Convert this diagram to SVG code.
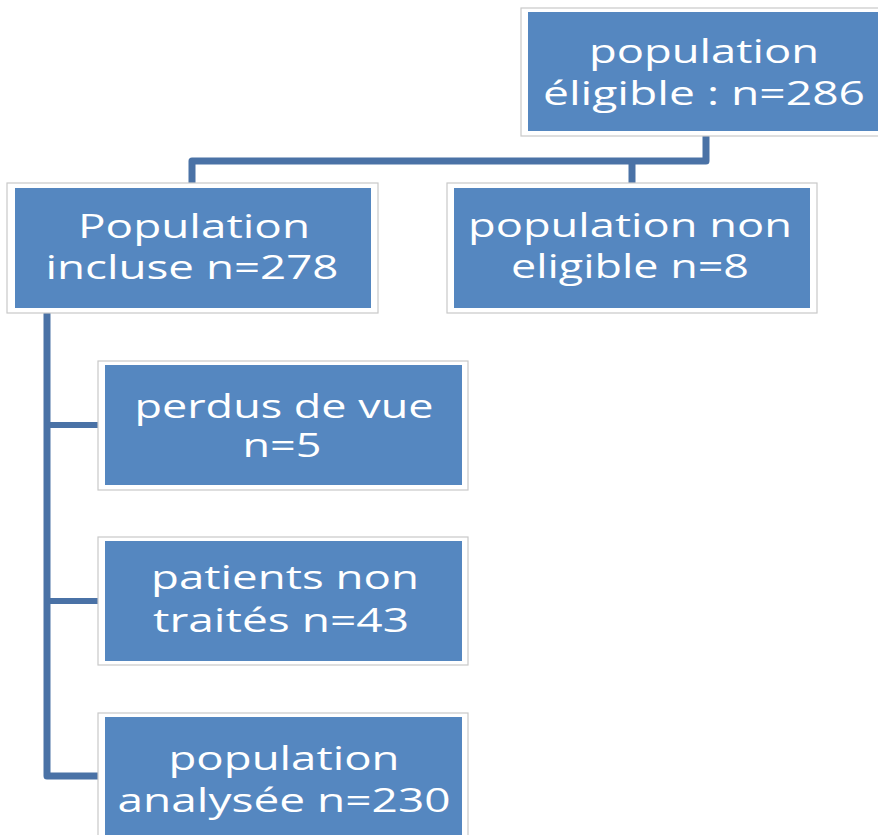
<svg xmlns="http://www.w3.org/2000/svg" width="878" height="835" viewBox="0 0 878 835">
<style>
.frame{fill:#ffffff;stroke:#c9c9c9;stroke-width:1.2}
.box{fill:#5587c0}
.lbl{font-family:"Open Sans","DejaVu Sans",sans-serif;font-size:32px;fill:#ffffff;text-anchor:middle}
.con{fill:none;stroke:#4a72a6;stroke-width:7;stroke-linejoin:round}
</style>
<rect width="878" height="835" fill="#ffffff"/>
<g id="connectors">
<path class="con" d="M706,136 V161 H192 V183"/>
<path class="con" d="M632,161 V183"/>
<path class="con" d="M47,313 V776 H98"/>
<path class="con" d="M47,425 H98" style="stroke-width:6"/>
<path class="con" d="M47,601 H98" style="stroke-width:6"/>
</g>
<g id="eligible">
<rect class="frame" x="521" y="8" width="366" height="128"/>
<rect class="box" x="528" y="12" width="352" height="119"/>
<text class="lbl" x="704" y="63" textLength="230" lengthAdjust="spacingAndGlyphs">population</text>
<text class="lbl" x="704" y="105" textLength="322" lengthAdjust="spacingAndGlyphs">éligible : n=286</text>
</g>
<g id="incluse">
<rect class="frame" x="7" y="183" width="371" height="130"/>
<rect class="box" x="15" y="188" width="356" height="120"/>
<text class="lbl" x="194" y="238" textLength="232" lengthAdjust="spacingAndGlyphs">Population</text>
<text class="lbl" x="192" y="279" textLength="293" lengthAdjust="spacingAndGlyphs">incluse n=278</text>
</g>
<g id="non-eligible">
<rect class="frame" x="447" y="183" width="370" height="130"/>
<rect class="box" x="454" y="188" width="356" height="120"/>
<text class="lbl" x="630" y="237" textLength="324" lengthAdjust="spacingAndGlyphs">population non</text>
<text class="lbl" x="630" y="278" textLength="238" lengthAdjust="spacingAndGlyphs">eligible n=8</text>
</g>
<g id="perdus">
<rect class="frame" x="98" y="361" width="370" height="129"/>
<rect class="box" x="105" y="365" width="357" height="120"/>
<text class="lbl" x="284" y="418" textLength="299" lengthAdjust="spacingAndGlyphs">perdus de vue</text>
<text class="lbl" x="282" y="457" textLength="79" lengthAdjust="spacingAndGlyphs">n=5</text>
</g>
<g id="non-traites">
<rect class="frame" x="98" y="537" width="370" height="128"/>
<rect class="box" x="105" y="541" width="357" height="120"/>
<text class="lbl" x="285" y="589" textLength="268" lengthAdjust="spacingAndGlyphs">patients non</text>
<text class="lbl" x="281" y="632" textLength="256" lengthAdjust="spacingAndGlyphs">traités n=43</text>
</g>
<g id="analysee">
<rect class="frame" x="98" y="713" width="370" height="128"/>
<rect class="box" x="105" y="717" width="357" height="120"/>
<text class="lbl" x="284" y="770" textLength="231" lengthAdjust="spacingAndGlyphs">population</text>
<text class="lbl" x="284" y="812" textLength="333" lengthAdjust="spacingAndGlyphs">analysée n=230</text>
</g>
</svg>
